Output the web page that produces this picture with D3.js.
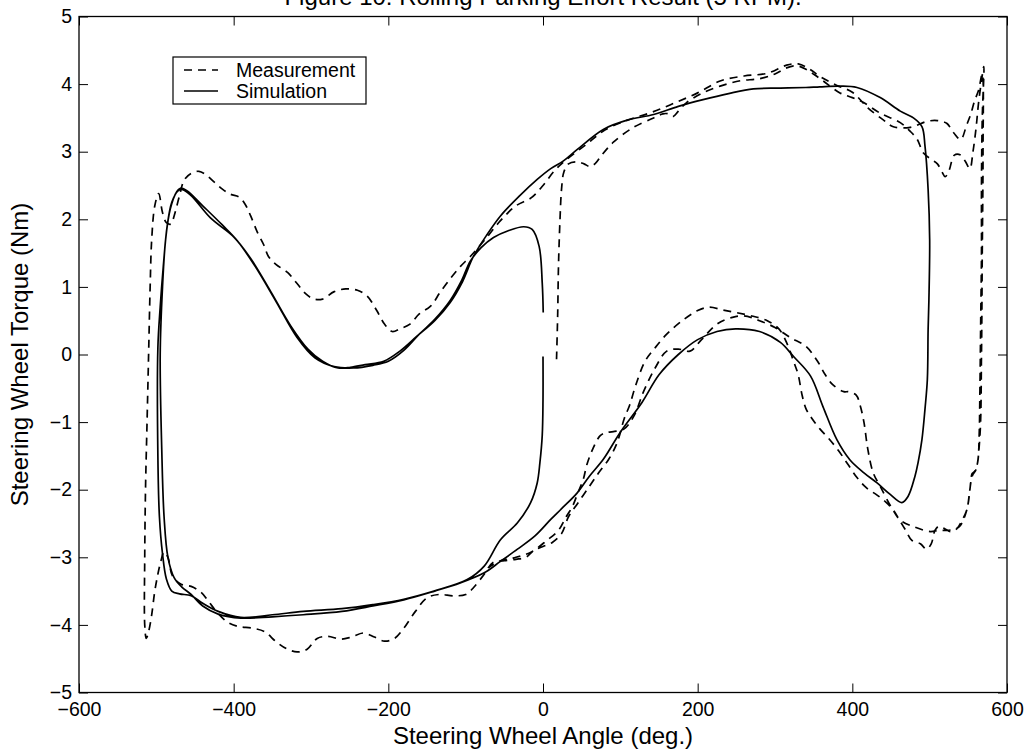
<!DOCTYPE html>
<html lang="en">
<head>
  <meta charset="utf-8">
  <title>Rolling Parking Effort</title>
  <script src="https://d3js.org/d3.v7.min.js"></script>
  <style>
    body { margin: 0; background: #fff; }
    #chart text { font-family: "Liberation Sans", Arial, Helvetica, sans-serif; fill: #000; }
    .tick text { font-size: 19.5px; }
  </style>
</head>
<body>
  <div id="chart"></div>

  <script>
    "use strict"

    // tick values
    const xTicks = [-600, -400, -200, 0, 200, 400, 600];
    const yTicks = [-5, -4, -3, -2, -1, 0, 1, 2, 3, 4, 5];

    // simulation: [angle (deg), torque (Nm)], two laps on the left side
    const simulation = [
      [0, -0.03], [0, -0.67], [-1, -1.2], [-4, -1.6], [-7.5, -1.9], [-16, -2.19], [-33, -2.49],
      [-55, -2.74], [-76, -3.13], [-98, -3.33], [-141, -3.5], [-180, -3.62], [-220, -3.7],
      [-260, -3.76], [-310, -3.8], [-350, -3.85], [-391, -3.89], [-420, -3.8], [-440, -3.68],
      [-455, -3.57], [-470, -3.54], [-480, -3.5], [-487, -3.32], [-492, -2.95], [-496, -2.4],
      [-498, -1.5], [-498, 0.1], [-495, 0.7], [-491, 1.3], [-486, 1.9], [-480, 2.25],
      [-472, 2.42], [-466, 2.44], [-455, 2.35], [-430, 2.02], [-400, 1.74], [-378, 1.42],
      [-352, 0.93], [-326, 0.42], [-304, 0.08], [-285, -0.1], [-265, -0.2], [-249, -0.19],
      [-230, -0.15], [-206, -0.1], [-185, 0.05], [-163, 0.27], [-140, 0.5], [-120, 0.77],
      [-104, 1.08], [-90, 1.45], [-72, 1.78], [-55, 2.05], [-30, 2.35], [-7.5, 2.59],
      [10, 2.75], [26, 2.86], [44, 3.03], [78, 3.33], [110, 3.47], [143, 3.55], [175, 3.67],
      [207, 3.77], [240, 3.86], [272, 3.93], [307, 3.94], [340, 3.95], [358, 3.96],
      [384, 3.97], [406, 3.95], [436, 3.8], [462, 3.6], [479, 3.5], [490, 3.37], [494, 3.08],
      [498, 2.44], [500, 1.7], [499, 0.8], [498, 0.37], [497, -0.37], [494, -0.8],
      [490, -1.26], [485, -1.6], [481, -1.8], [472, -2.1], [464, -2.19], [449, -2.07],
      [432, -1.9], [415, -1.75], [397, -1.56], [380, -1.26], [362, -0.77], [346, -0.32],
      [324, -0.03], [307, 0.18], [280, 0.34], [249, 0.38], [225, 0.34], [200, 0.22],
      [175, 0.0], [150, -0.3], [128, -0.71], [100, -1.15], [78, -1.55], [60, -1.8],
      [44, -2.05], [25, -2.27], [10, -2.44], [-10, -2.68], [-33, -2.88], [-55, -3.06],
      [-76, -3.23], [-107, -3.38], [-140, -3.5], [-180, -3.63], [-220, -3.72], [-260, -3.8],
      [-310, -3.85], [-350, -3.88], [-391, -3.9], [-420, -3.84], [-440, -3.72], [-455, -3.55],
      [-467, -3.44], [-477, -3.3], [-485, -3.0], [-490, -2.4], [-493, -1.4], [-495, 0],
      [-492, 1.0], [-488, 1.7], [-482, 2.15], [-474, 2.4], [-468, 2.46], [-460, 2.42],
      [-440, 2.2], [-415, 1.92], [-395, 1.68], [-372, 1.3], [-345, 0.78], [-318, 0.25],
      [-295, -0.05], [-270, -0.18], [-245, -0.2], [-220, -0.16], [-200, -0.1], [-180, 0.06],
      [-160, 0.3], [-140, 0.52], [-120, 0.8], [-105, 1.1], [-94, 1.38], [-80, 1.58],
      [-64, 1.73], [-45, 1.83], [-25, 1.89], [-14, 1.85], [-5, 1.6], [-1, 1.06], [0.3, 0.62]
    ];

    // measurement: [angle (deg), torque (Nm)]
    const measurement = [
      [17.5, -0.07], [19, 0.6], [20, 1.3], [22, 2.0], [24, 2.45], [27, 2.7], [33, 2.82],
      [44, 2.85], [53, 2.82], [61, 2.78], [68, 2.83], [76, 2.95], [91, 3.14], [117, 3.36],
      [143, 3.5], [155, 3.56], [162, 3.56], [168, 3.52], [175, 3.6], [186, 3.73], [205, 3.86],
      [229, 3.97], [255, 4.05], [280, 4.08], [300, 4.15], [315, 4.24], [328, 4.27], [340, 4.22],
      [352, 4.13], [362, 4.05], [384, 3.87], [400, 3.8], [414, 3.73], [436, 3.57], [462, 3.43],
      [475, 3.3], [484, 3.18], [492, 2.98], [503, 2.88], [510, 2.82], [516, 2.7], [520, 2.63],
      [525, 2.72], [532, 2.95], [540, 2.95], [546, 2.86], [552, 2.75], [556, 3.0], [560, 3.35],
      [563, 3.7], [567, 4.05], [570, 4.26], [568, 3.5], [567, 2.5], [567, 1.5], [566, 0.5],
      [565, -0.5], [564, -1.2], [562, -1.6], [558, -1.73], [555, -1.76], [552, -2.0],
      [548, -2.3], [542, -2.45], [535, -2.58], [527, -2.62], [520, -2.58], [512, -2.54],
      [507, -2.6], [502, -2.8], [496, -2.88], [488, -2.8], [477, -2.75], [469, -2.6],
      [462, -2.47], [453, -2.3], [443, -2.18], [432, -2.08], [418, -1.97], [406, -1.82],
      [394, -1.62], [382, -1.42], [370, -1.25], [358, -1.1], [348, -0.95], [340, -0.8],
      [335, -0.6], [330, -0.3], [324, -0.1], [316, 0.15], [305, 0.38], [290, 0.5], [270, 0.57],
      [250, 0.62], [232, 0.66], [215, 0.7], [200, 0.65], [180, 0.5], [160, 0.3], [145, 0.1],
      [132, -0.1], [120, -0.45], [112, -0.75], [105, -0.95], [96, -1.3], [85, -1.55],
      [72, -1.75], [60, -1.95], [45, -2.2], [33, -2.4], [24, -2.65], [12, -2.78], [0, -2.84],
      [-12, -2.9], [-22, -3.0], [-35, -3.03], [-50, -3.05], [-65, -3.08], [-76, -3.25],
      [-90, -3.45], [-100, -3.55], [-115, -3.57], [-135, -3.55], [-150, -3.6], [-165, -3.8],
      [-180, -4.05], [-192, -4.2], [-205, -4.24], [-218, -4.18], [-232, -4.12], [-248, -4.18],
      [-262, -4.21], [-278, -4.17], [-292, -4.2], [-305, -4.36], [-318, -4.4], [-332, -4.35],
      [-345, -4.25], [-360, -4.1], [-375, -4.05], [-395, -4.02], [-408, -3.96], [-421, -3.82],
      [-432, -3.66], [-442, -3.52], [-455, -3.43], [-468, -3.4], [-479, -3.28], [-485, -3.0],
      [-490, -2.92], [-494, -3.05], [-498, -3.25], [-502, -3.5], [-506, -3.85], [-510, -4.1],
      [-513, -4.2], [-515, -4.0], [-515, -3.0], [-514, -2.0], [-512, -1.0], [-510, 0.0],
      [-508, 1.0], [-506, 1.7], [-502, 2.2], [-497, 2.38], [-492, 2.1], [-487, 1.95],
      [-481, 1.93], [-477, 2.05], [-470, 2.35], [-464, 2.58], [-455, 2.68], [-445, 2.71],
      [-436, 2.66], [-425, 2.55], [-415, 2.45], [-404, 2.37], [-393, 2.33], [-385, 2.22],
      [-378, 2.05], [-369, 1.8], [-361, 1.62], [-355, 1.45], [-345, 1.33], [-330, 1.21],
      [-318, 1.05], [-307, 0.9], [-296, 0.82], [-285, 0.82], [-270, 0.93], [-255, 0.97],
      [-240, 0.95], [-227, 0.86], [-215, 0.65], [-205, 0.45], [-195, 0.34], [-185, 0.38],
      [-172, 0.45], [-160, 0.6], [-145, 0.72], [-133, 0.92], [-120, 1.12], [-107, 1.3],
      [-94, 1.45], [-75, 1.7], [-55, 1.98], [-35, 2.2], [-15, 2.32], [0, 2.5], [15, 2.72],
      [30, 2.88], [55, 3.1], [80, 3.32], [110, 3.47], [140, 3.58], [170, 3.72], [200, 3.87],
      [230, 4.05], [260, 4.12], [290, 4.16], [315, 4.28], [330, 4.3], [345, 4.22], [360, 4.1],
      [380, 3.98], [400, 3.88], [420, 3.65], [440, 3.47], [453, 3.37], [475, 3.36], [497, 3.45],
      [510, 3.46], [522, 3.42], [531, 3.28], [540, 3.18], [548, 3.4], [553, 3.55], [558, 3.75],
      [563, 3.9], [568, 4.15], [569, 3.0], [568, 1.5], [567, 0], [565, -1.2], [560, -1.7],
      [555, -1.8], [548, -2.3], [538, -2.55], [525, -2.6], [512, -2.6], [501, -2.62],
      [480, -2.55], [462, -2.45], [450, -2.25], [436, -1.95], [427, -1.75], [420, -1.4],
      [415, -1.0], [410, -0.75], [405, -0.6], [395, -0.55], [389, -0.55], [375, -0.45],
      [365, -0.3], [355, -0.1], [340, 0.12], [320, 0.25], [300, 0.4], [280, 0.5], [260, 0.57],
      [245, 0.55], [225, 0.45], [205, 0.22], [190, 0.05], [175, 0.08], [160, 0.05],
      [145, -0.2], [130, -0.55], [118, -0.9], [105, -1.1], [91, -1.14], [80, -1.16],
      [74, -1.2], [65, -1.38], [57, -1.62], [52, -1.85], [45, -2.05], [38, -2.25], [30, -2.4],
      [20, -2.6], [5, -2.75], [-15, -2.92], [-35, -3.0], [-55, -3.05], [-70, -3.15]
    ];

    const legendItems = [
      { label: "Measurement", dash: "8,6" },
      { label: "Simulation", dash: null }
    ];

    const larguraSVG = 1029, alturaSVG = 751;
    const margin = { top: 16.5, right: 22, bottom: 58.5, left: 79 },
          larguraVis = larguraSVG - margin.left - margin.right,
          alturaVis = alturaSVG - margin.top - margin.bottom;

    const svg = d3.select('#chart')
      .append('svg')
        .attr('width', larguraSVG)
        .attr('height', alturaSVG);

    const grafico = svg.append('g')
        .attr('transform', 'translate(' + margin.left + ',' + margin.top + ')');

    // scales
    const x = d3.scaleLinear().domain([-600, 600]).range([0, larguraVis]);
    const y = d3.scaleLinear().domain([-5, 5]).range([alturaVis, 0]);

    // axes, ticks pointing inward like matlab
    const tick = 9;
    grafico.append('g')
        .attr('transform', 'translate(0,' + alturaVis + ')')
        .call(d3.axisBottom(x).tickValues(xTicks).tickSizeInner(-tick).tickSizeOuter(0).tickPadding(10));
    grafico.append('g')
        .call(d3.axisLeft(y).tickValues(yTicks).tickSizeInner(-tick).tickSizeOuter(0).tickPadding(7));
    grafico.append('g')
        .call(d3.axisTop(x).tickValues(xTicks).tickSizeInner(-tick).tickSizeOuter(0).tickFormat(''));
    grafico.append('g')
        .attr('transform', 'translate(' + larguraVis + ',0)')
        .call(d3.axisRight(y).tickValues(yTicks).tickSizeInner(-tick).tickSizeOuter(0).tickFormat(''));

    grafico.selectAll('.domain').remove();
    grafico.selectAll('.tick line').attr('stroke', '#000').attr('stroke-width', 1);

    // frame
    grafico.append('rect')
        .attr('x', 0).attr('y', 0)
        .attr('width', larguraVis).attr('height', alturaVis)
        .attr('fill', 'none')
        .attr('stroke', '#000')
        .attr('stroke-width', 1.3);

    // lines
    const linha = d3.line()
        .x(d => x(d[0]))
        .y(d => y(d[1]))
        .curve(d3.curveCatmullRom.alpha(0.5));

    grafico.append('path')
        .datum(measurement)
        .attr('d', linha)
        .attr('fill', 'none')
        .attr('stroke', '#000')
        .attr('stroke-width', 1.7)
        .attr('stroke-dasharray', legendItems[0].dash);

    grafico.append('path')
        .datum(simulation)
        .attr('d', linha)
        .attr('fill', 'none')
        .attr('stroke', '#000')
        .attr('stroke-width', 1.7);

    // legend
    const legenda = svg.append('g').attr('transform', 'translate(173,57)');
    legenda.append('rect')
        .attr('width', 193).attr('height', 47)
        .attr('fill', '#fff')
        .attr('stroke', '#000')
        .attr('stroke-width', 1.2);
    const item = legenda.selectAll('g.item')
      .data(legendItems)
      .enter().append('g')
        .attr('class', 'item')
        .attr('transform', (d, i) => 'translate(0,' + (13 + i * 21) + ')');
    item.append('line')
        .attr('x1', 11).attr('x2', 45)
        .attr('stroke', '#000')
        .attr('stroke-width', 1.7)
        .attr('stroke-dasharray', d => d.dash);
    item.append('text')
        .attr('x', 63).attr('dy', '0.35em')
        .style('font-size', '19.5px')
        .text(d => d.label);

    // title and labels
    svg.append('text')
        .attr('x', margin.left + larguraVis / 2).attr('y', 4.5)
        .attr('text-anchor', 'middle')
        .style('font-size', '24px')
        .text('Figure 10: Rolling Parking Effort Result (5 RPM).');

    svg.append('text')
        .attr('x', margin.left + larguraVis / 2).attr('y', 744)
        .attr('text-anchor', 'middle')
        .style('font-size', '24px')
        .text('Steering Wheel Angle (deg.)');

    svg.append('text')
        .attr('transform', 'translate(28,' + (margin.top + alturaVis / 2) + ') rotate(-90)')
        .attr('text-anchor', 'middle')
        .style('font-size', '24px')
        .text('Steering Wheel Torque (Nm)');
  </script>
</body>
</html>
